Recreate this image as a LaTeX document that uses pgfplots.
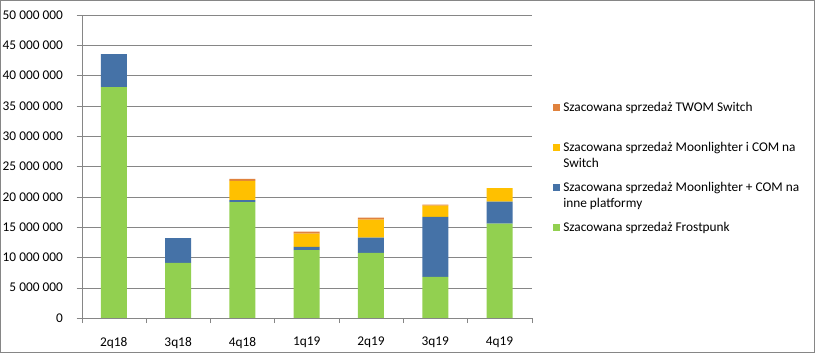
\documentclass[border=0pt]{standalone}
\usepackage{fontspec}
\setmainfont{Carlito}
\usepackage{pgfplots}
\pgfplotsset{compat=1.18}
\definecolor{cgreen}{HTML}{92D050}
\definecolor{cblue}{HTML}{4572A7}
\definecolor{cyellow}{HTML}{FFC000}
\definecolor{corange}{HTML}{E0823D}
\definecolor{cgrid}{HTML}{868686}
\begin{document}
\begin{tikzpicture}[font=\fontsize{13.33bp}{15.3bp}\selectfont]
\useasboundingbox (0,0) rectangle (815bp,353bp);
\draw[cgrid] (0.5bp,0.5bp) rectangle (814.5bp,352.5bp);
\begin{axis}[
  at={(81.7bp,35bp)}, anchor=south west,
  scale only axis, width=450bp, height=303bp,
  ybar stacked, bar width=26bp,
  xmin=-0.5, xmax=6.5, ymin=0, ymax=50000000,
  scaled y ticks=false,
  xtick={0,1,2,3,4,5,6},
  xticklabels={2q18,3q18,4q18,1q19,2q19,3q19,4q19},
  minor xtick={-0.5,0.5,1.5,2.5,3.5,4.5,5.5,6.5},
  ytick={0,5000000,10000000,15000000,20000000,25000000,30000000,35000000,40000000,45000000,50000000},
  yticklabels={0,5 000 000,10 000 000,15 000 000,20 000 000,25 000 000,30 000 000,35 000 000,40 000 000,45 000 000,50 000 000},
  /pgf/number format/assume math mode=true,
  axis x line*=bottom, axis y line*=left,
  axis line style={cgrid,-},
  tick align=outside,
  major tick length=5bp, minor tick length=5bp,
  every tick/.style={cgrid},
  major x tick style={draw=none},
  ymajorgrids, grid style={cgrid},
  yticklabel style={inner sep=0pt, anchor=east, xshift=-13.7bp},
  xticklabel style={inner sep=0pt, anchor=north, yshift=-13.7bp},
  reverse legend,
  legend image code/.code={\fill[#1] (0bp,0.5bp) rectangle (7bp,7.5bp);},
  legend style={draw=none, fill=none, inner sep=0pt, outer sep=0pt,
    at={(1.0473,0.7129)}, anchor=north west,
    row sep=0pt, column sep=3.3bp,
    cells={anchor=base west},
    nodes={inner sep=0pt, text height=10bp, text depth=30bp, anchor=base west}},
]
\addplot[fill=cgreen, draw=none] coordinates {(0,38100000) (1,9080000) (2,19140000) (3,11220000) (4,10730000) (5,6770000) (6,15560000)};
\addlegendentry{Szacowana sprzedaż Frostpunk}
\addplot[fill=cblue, draw=none] coordinates {(0,5450000) (1,4100000) (2,330000) (3,500000) (4,2520000) (5,9900000) (6,3630000)};
\addlegendentry{\parbox[t]{245bp}{Szacowana sprzedaż Moonlighter + COM na\\inne platformy}}
\addplot[fill=cyellow, draw=none] coordinates {(0,0) (1,0) (2,3150000) (3,2200000) (4,2970000) (5,1860000) (6,2250000)};
\addlegendentry{\parbox[t]{245bp}{Szacowana sprzedaż Moonlighter i COM na\\Switch}}
\addplot[fill=corange, draw=none] coordinates {(0,0) (1,0) (2,330000) (3,330000) (4,330000) (5,170000) (6,0)};
\addlegendentry{Szacowana sprzedaż TWOM Switch}
\end{axis}
\end{tikzpicture}
\end{document}
